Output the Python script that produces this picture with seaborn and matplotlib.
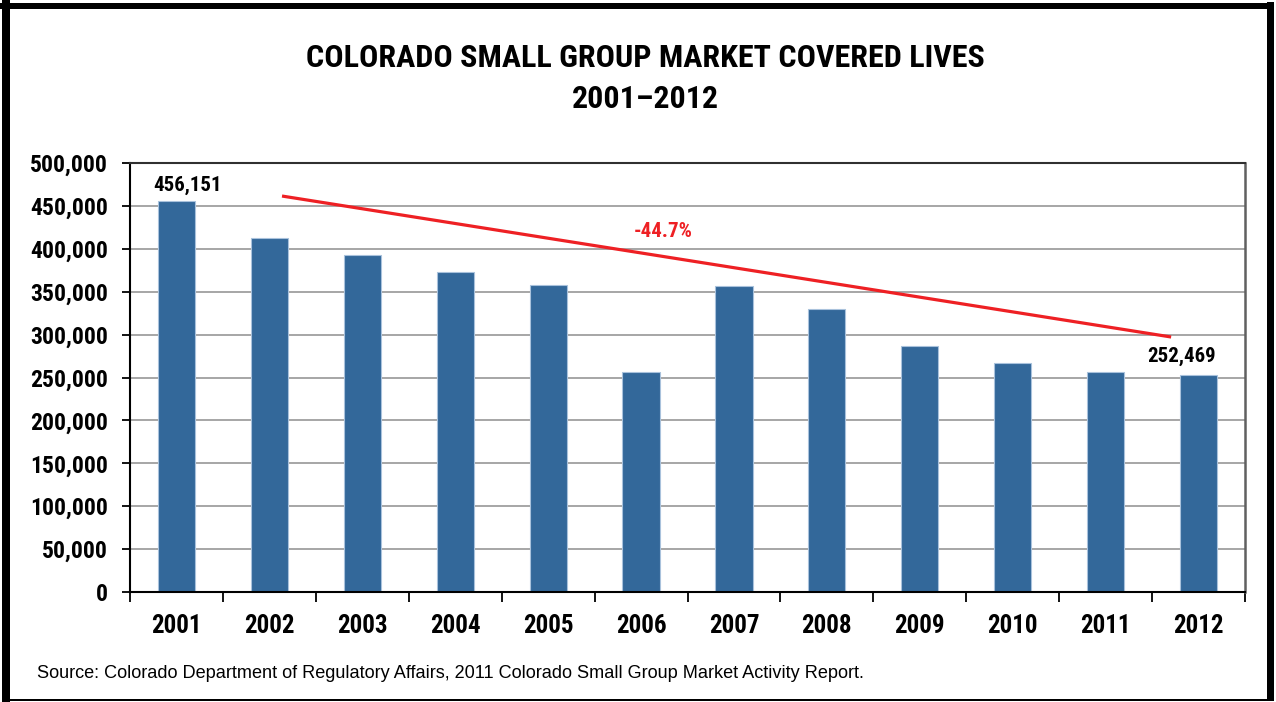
import matplotlib
matplotlib.use("Agg")
import matplotlib.pyplot as plt
from matplotlib.patches import Rectangle
from matplotlib.ticker import FuncFormatter, FixedLocator
import seaborn as sns
import pandas as pd

# Covered lives in the Colorado small group market, by year
years = ["2001", "2002", "2003", "2004", "2005", "2006",
         "2007", "2008", "2009", "2010", "2011", "2012"]
covered_lives = [456151, 412500, 392600, 373000, 357700, 256100,
                 356300, 330400, 286200, 267200, 256200, 252469]

title_lines = ["COLORADO SMALL GROUP MARKET COVERED LIVES", "2001\u20132012"]
change_label = "-44.7%"
source_note = ("Source: Colorado Department of Regulatory Affairs, "
               "2011 Colorado Small Group Market Activity Report.")

df = pd.DataFrame({"year": years, "lives": covered_lives})

sns.set_theme(style="white")
COND = ["Roboto Condensed", "Archivo Narrow", "Liberation Sans", "DejaVu Sans"]
REG = ["Liberation Sans", "DejaVu Sans"]
plt.rcParams["font.family"] = COND
plt.rcParams["text.color"] = "black"
plt.rcParams["xtick.color"] = "black"
plt.rcParams["ytick.color"] = "black"

BAR = "#33689a"
RED = "#ee2024"

fig = plt.figure(figsize=(12.76, 7.02), dpi=100)
fig.patch.set_facecolor("white")
ax = fig.add_axes([130 / 1276, 110 / 702, 1115 / 1276, 429 / 702])

sns.barplot(data=df, x="year", y="lives", color=BAR, saturation=1,
            width=0.4, edgecolor="#a9c2dc", linewidth=0.8, ax=ax, zorder=3)

ax.set_ylim(0, 500000)
ax.set_xlim(-0.5, len(years) - 0.5)
ax.set_yticks(range(0, 500001, 50000))
ax.yaxis.set_major_formatter(FuncFormatter(lambda v, p: f"{int(v):,}"))
ax.grid(axis="y", color="#a6a6a6", linewidth=1.4, zorder=0)
ax.set_axisbelow(True)
ax.set_xlabel("")
ax.set_ylabel("")

# Category labels centred under bars, tick marks on category boundaries
ax.tick_params(axis="x", which="major", length=0, pad=16)
ax.xaxis.set_minor_locator(FixedLocator([i - 0.5 for i in range(len(years) + 1)]))
ax.tick_params(axis="x", which="minor", length=7, width=1.3, color="black",
               direction="out", bottom=True)
ax.tick_params(axis="y", length=6, width=1.3, color="black", direction="out",
               left=True, pad=10)
for lab in ax.get_xticklabels():
    lab.set_fontsize(18)
    lab.set_fontweight("bold")
    lab.set_family(COND)
    lab.set_color("black")
for lab in ax.get_yticklabels():
    lab.set_fontsize(17)
    lab.set_fontweight("bold")
    lab.set_family(COND)
    lab.set_color("black")

for side in ["left", "bottom"]:
    ax.spines[side].set_color("black")
    ax.spines[side].set_linewidth(1.5)
ax.spines["top"].set_color("#303030")
ax.spines["top"].set_linewidth(1.5)
ax.spines["right"].set_color("#606060")
ax.spines["right"].set_linewidth(1.8)
for s in ax.spines.values():
    s.set_visible(True)
    s.set_zorder(5)

# First and last values annotated
ax.annotate(f"{covered_lives[0]:,}", xy=(0, covered_lives[0]), xytext=(8, 11),
            textcoords="offset points", ha="center", va="center",
            fontsize=15, fontweight="bold", family=COND, color="black")
ax.annotate(f"{covered_lives[-1]:,}", xy=(len(years) - 1, covered_lives[-1]),
            xytext=(-12, 14), textcoords="offset points", ha="center",
            va="center", fontsize=15, fontweight="bold", family=COND,
            color="black")

# Overall decline trend
ax.plot([1.136, 10.705], [461500, 297200], color=RED, linewidth=2.3,
        zorder=4, solid_capstyle="butt")
ax.text(5.24, 420500, change_label, color=RED, fontsize=15,
        fontweight="bold", family=COND, ha="center", va="center")

# Title
fig.text(645 / 1276, 1 - 58 / 702, title_lines[0], ha="center", va="center",
         fontsize=23, fontweight="bold", family=COND, color="black")
fig.text(645 / 1276, 1 - 99 / 702, title_lines[1], ha="center", va="center",
         fontsize=23, fontweight="bold", family=COND, color="black")

# Source note
fig.text(37 / 1276, 1 - 674 / 702, source_note, ha="left", va="center",
         fontsize=13.1, family=REG, color="black")

# Frame around the whole graphic
fig.patches.append(Rectangle((2 / 1276, 0), 8 / 1276, 1, transform=fig.transFigure,
                             facecolor="black", edgecolor="none"))
fig.patches.append(Rectangle((0, 1 - 9 / 702), 1274 / 1276, 6 / 702,
                             transform=fig.transFigure, facecolor="black",
                             edgecolor="none"))
fig.patches.append(Rectangle((1267 / 1276, 2 / 702), 7 / 1276, 698 / 702,
                             transform=fig.transFigure, facecolor="black",
                             edgecolor="none"))
fig.patches.append(Rectangle((2 / 1276, 1 - 701 / 702), 1272 / 1276, 2 / 702,
                             transform=fig.transFigure, facecolor="black",
                             edgecolor="none"))

fig.savefig("out.png", dpi=100, facecolor="white")
